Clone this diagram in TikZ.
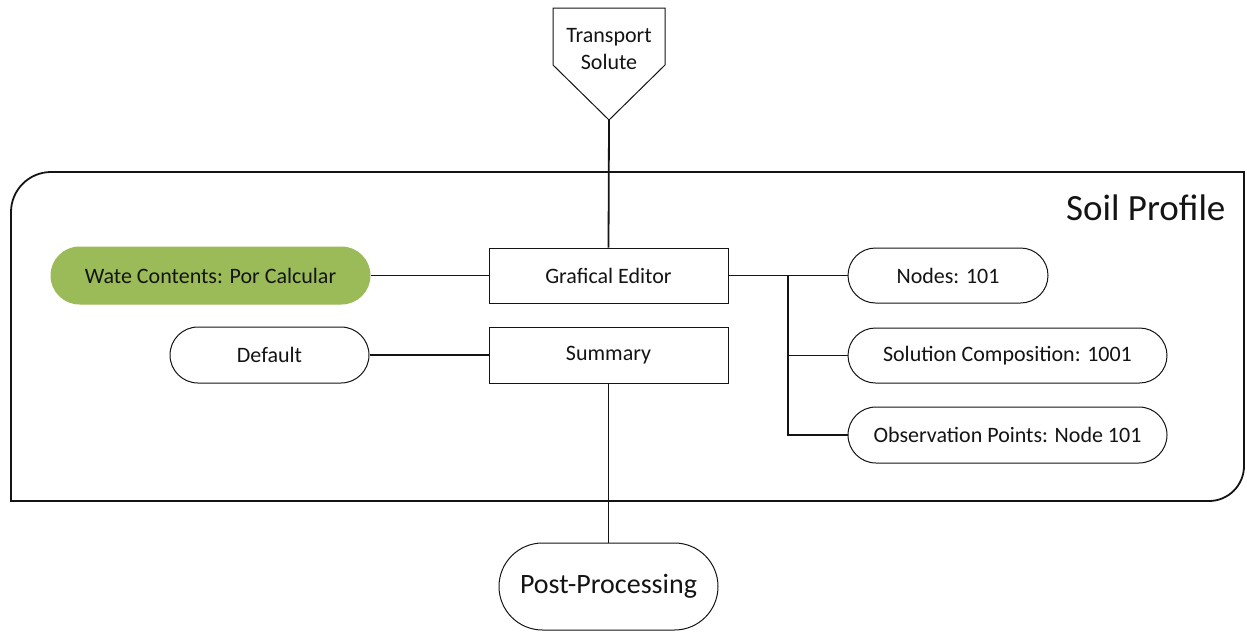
\documentclass[tikz,border=0pt]{standalone}
\usepackage{fontspec}
\setmainfont{Carlito}
\definecolor{olivefill}{HTML}{9BBB59}
\definecolor{inkdark}{HTML}{141414}
\begin{document}
\begin{tikzpicture}[x=1pt,y=-1pt,
  every node/.style={text=inkdark},
  lbl/.style={font=\fontsize{22}{27}\selectfont},
  box/.style={draw=inkdark, line width=1pt, fill=white, rectangle, inner sep=0pt, lbl},
  pill/.style={draw=inkdark, line width=1pt, fill=white, rectangle, rounded corners=27.5pt, inner sep=0pt, lbl},
  link/.style={draw=inkdark, line width=1.8pt},
]
\useasboundingbox (0,0) rectangle (1247,632);

% soil profile frame: rounded top-left and bottom-right corners
\draw[inkdark, line width=1.8pt]
  (11,501) -- (11,212) .. controls (11,190) and (29,172) .. (51,172)
  -- (1244,172) -- (1244,466) .. controls (1244,485.3) and (1228.3,501) .. (1209,501)
  -- cycle;
\node[anchor=east, font=\fontsize{37}{42}\selectfont] (soil) at (1229,208) {Soil Profile};

% off-page connector shape for the solute transport input
\draw[inkdark, line width=1pt, fill=white]
  (553,8) -- (665,8) -- (665,65) -- (609,120) -- (553,65) -- cycle;
\node[lbl, align=center] (ts) at (609,49) {Transport\\Solute};
\coordinate (tstip) at (609,120);

% main boxes
\node[box, minimum width=239pt, minimum height=55pt] (ge) at (608.5,275.5) {Grafical Editor};
\node[box, minimum width=239pt, minimum height=56pt] (sum) at (608.5,355) {Summary};

% left-hand settings
\node[pill, fill=olivefill, draw=olivefill, minimum width=319pt, minimum height=57pt, rounded corners=28.5pt] (wc) at (210.5,275.5) {Wate Contents: Por Calcular};
\node[pill, minimum width=199pt, minimum height=56pt, rounded corners=28pt] (def) at (269.5,355) {Default};

% right-hand settings
\node[pill, minimum width=200pt, minimum height=55pt] (nodes) at (948,275.5) {Nodes: 101};
\node[pill, minimum width=319pt, minimum height=55pt] (sol) at (1007.5,355.5) {Solution Composition: 1001};
\node[pill, minimum width=319pt, minimum height=56pt, rounded corners=28pt] (obs) at (1007.5,435) {Observation Points: Node 101};

% output stage
\node[pill, minimum width=219pt, minimum height=87pt, rounded corners=43.5pt, font=\fontsize{28}{32}\selectfont] (pp) at (608.5,586.5) {Post-Processing};

% connectors
\coordinate (br) at (788,275.5);
\draw[link] (tstip) -- (ge.north);
\draw[link] (wc.east) -- (ge.west);
\draw[link] (def.east) -- (sum.west);
\draw[link] (ge.east) -- (nodes.west);
\draw[link] (br) |- (sol.west);
\draw[link] (br) |- (obs.west);
\draw[link] (sum.south) -- (pp.north);
\end{tikzpicture}
\end{document}
